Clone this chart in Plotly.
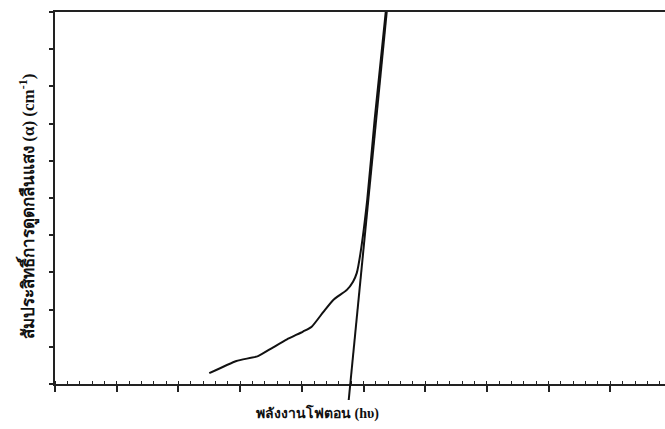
import plotly.graph_objects as go

# Absorption curve (arbitrary units)
photon_energy = [2.50, 2.94, 3.29, 3.51, 3.76, 4.02, 4.16, 4.35, 4.51, 4.73, 4.83, 4.89, 4.95, 5.06, 5.18, 5.36]
absorption = [0.29, 0.62, 0.75, 0.96, 1.20, 1.41, 1.54, 1.94, 2.26, 2.53, 2.75, 2.98, 3.51, 4.95, 7.10, 10.0]

# Extrapolated tangent line
tangent_x = [4.76, 5.376]
tangent_y = [-0.43, 10.0]

x_title = "<b>พลังงานโฟตอน (hυ)</b>"
y_title = "<b>สัมประสิทธิ์การดูดกลืนแสง (α) (cm<sup>-1</sup>)</b>"

x_range = [0, 9.886]
y_range = [0, 10]
y2_range = [-0.43, 10]

fig = go.Figure()
fig.add_trace(go.Scatter(x=tangent_x, y=tangent_y, mode="lines",
                         line=dict(color="#111111", width=2),
                         xaxis="x2", yaxis="y2", showlegend=False, hoverinfo="skip"))
fig.add_trace(go.Scatter(x=photon_energy, y=absorption, mode="lines",
                         line=dict(color="#111111", width=2, shape="spline", smoothing=0.5),
                         xaxis="x", yaxis="y", showlegend=False, hoverinfo="skip"))

font_main = "Liberation Serif, Noto Sans, serif"

fig.update_layout(
    width=665, height=429,
    margin=dict(l=55, r=0, t=12, b=29),
    paper_bgcolor="white", plot_bgcolor="rgba(0,0,0,0)",
    xaxis=dict(domain=[0, 1], range=x_range, anchor="y",
               showline=True, linecolor="#222222", linewidth=1.5, mirror=True,
               showgrid=False, zeroline=False, showticklabels=False,
               ticks="outside", ticklen=6, tickwidth=1.5, tickcolor="#222222",
               dtick=1, tick0=0,
               minor=dict(ticks="inside", ticklen=3, tickwidth=1, tickcolor="#222222", dtick=0.2, showgrid=False)),
    yaxis=dict(domain=[16/388, 1], range=y_range, anchor="x",
               showline=True, linecolor="#222222", linewidth=1.5,
               showgrid=False, zeroline=False, showticklabels=False,
               ticks="outside", ticklen=4, tickwidth=1.5, tickcolor="#222222",
               dtick=1, tick0=0),
    xaxis2=dict(domain=[0, 1], range=x_range, anchor="y2", visible=False),
    yaxis2=dict(domain=[0, 1], range=y2_range, anchor="x2", visible=False),
    annotations=[
        dict(text=x_title, xref="paper", yref="paper", x=0.431, y=-13/388,
             xanchor="center", yanchor="middle", showarrow=False,
             font=dict(family=font_main, size=14, color="#111111")),
        dict(text=y_title, xref="paper", yref="paper", x=-0.046, y=0.50,
             xanchor="center", yanchor="middle", showarrow=False, textangle=-90,
             font=dict(family=font_main, size=17, color="#111111")),
    ],
)

fig.write_html("out.html")
